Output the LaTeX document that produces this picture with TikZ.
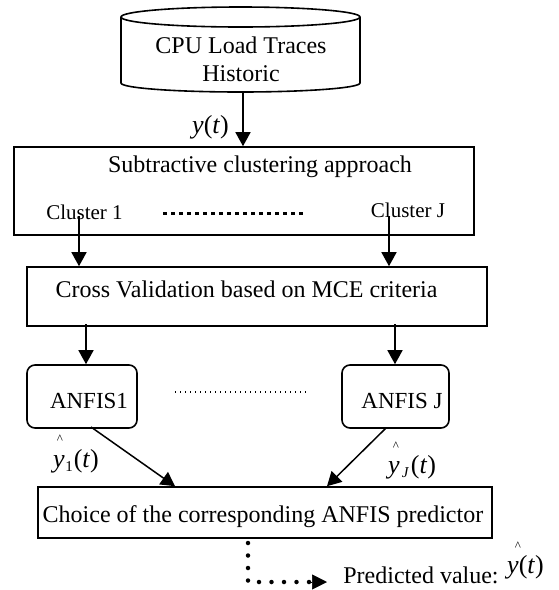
\documentclass[tikz,border=0pt]{standalone}
\usepackage{fontspec}
\setmainfont{Liberation Serif}
\usetikzlibrary{arrows.meta,calc}
\newcommand\myfs[1]{\fontsize{#1}{#1}\selectfont}
\begin{document}
\begin{tikzpicture}[x=1pt,y=-1pt,
  box/.style={draw, line width=1.6pt, inner sep=0pt},
  rbox/.style={box, rounded corners=8pt},
  txt/.style={inner sep=0pt, anchor=base, font=\myfs{24}},
  ctxt/.style={txt, font=\myfs{21}},
  atxt/.style={txt, font=\myfs{23}},
  mtxt/.style={inner sep=0pt, anchor=base west, font=\myfs{26}},
  hatmark/.style={inner sep=0pt, font=\myfs{13}},
  arr/.style={line width=1.5pt, -{Triangle[length=14pt,width=15pt]}},
  cyl/.style={line width=1.6pt},
  squaredots/.style={line width=3pt, dash pattern=on 4pt off 4pt},
  finedots/.style={line width=1.4pt, dash pattern=on 1.4pt off 3.6pt},
  bigdots/.style={line width=4.5pt, line cap=round, dash pattern=on 0pt off 12.5pt}]
\useasboundingbox (0,0) rectangle (559,590);
% cylinder
\node[inner sep=0pt, minimum width=239pt, minimum height=85pt] (cpu) at (240.5,49.5) {};
\draw[cyl] (240.5,17) ellipse [x radius=119.5pt, y radius=10pt];
\draw[cyl] (121,17) -- (121,83) arc[start angle=180, end angle=360, x radius=119.5pt, y radius=9pt] -- (360,17);
\node[txt] (cpuA) at (241,53) {CPU Load Traces};
\node[txt] (cpuB) at (241,81) {Historic};
% boxes
\node[box, minimum width=460pt, minimum height=88pt] (sub) at (244,191) {};
\node[box, minimum width=460pt, minimum height=59pt] (cv) at (257,296.5) {};
\node[rbox, minimum width=110pt, minimum height=63pt] (an1) at (82,396.5) {};
\node[rbox, minimum width=107pt, minimum height=63pt] (anJ) at (395.5,396.5) {};
\node[box, minimum width=454pt, minimum height=51pt] (ch) at (265,512.5) {};
% texts
\node[txt] (subT) at (260,172) {Subtractive clustering approach};
\node[ctxt] (c1) at (84.5,219) {Cluster 1};
\node[ctxt] (cJ) at (408,217) {Cluster J};
\node[txt] (cvT) at (246.5,297) {Cross Validation based on MCE criteria};
\node[atxt] (an1T) at (89,408) {ANFIS1};
\node[atxt] (anJT) at (402,408) {ANFIS J};
\node[txt] (chT) at (263,522) {Choice of the corresponding ANFIS predictor};
\node[txt] (pv) at (421,583) {Predicted value:};
% math labels
\node[mtxt] (yt) at (192,133) {\textit{y}(\textit{t})};
\node[mtxt] (y1) at (53,467) {\textit{y}\kern0.5pt\raisebox{-4pt}{\myfs{15}1}\kern1pt(\textit{t})};
\node[hatmark] (h1) at (60,439) {\textasciicircum};
\node[mtxt] (yJ) at (388,473) {\textit{y}\kern2pt\raisebox{-4pt}{\myfs{15}\textit{J}}\kern2pt(\textit{t})};
\node[hatmark] (hJ) at (396,446) {\textasciicircum};
\node[mtxt] (yf) at (507,573) {\textit{y}(\textit{t})};
\node[hatmark] (hf) at (518,546) {\textasciicircum};
% dotted separators
\coordinate (sd1) at (163,213);
\coordinate (sd2) at (305,213);
\draw[squaredots] (sd1) -- (sd2);
\coordinate (ad1) at (175,392);
\coordinate (ad2) at (308,392);
\draw[finedots] (ad1) -- (ad2);
% connectors
\coordinate (cpuout) at ($(cpu.south)+(2.5,0)$);
\draw[arr] (cpuout) -- (cpuout |- sub.north);
\coordinate (s1) at (79,216);
\coordinate (sJ) at (389,216);
\draw[arr] (s1) -- (s1 |- cv.north);
\draw[arr] (sJ) -- (sJ |- cv.north);
\coordinate (v1) at (86,324);
\coordinate (vJ) at (395,324);
\draw[arr] (v1) -- (v1 |- an1.north);
\draw[arr] (vJ) -- (vJ |- anJ.north);
\coordinate (d1) at (91,427);
\coordinate (dJ) at (386,428);
\coordinate (e1) at (175,0);
\coordinate (eJ) at (327,0);
\draw[arr] (d1) -- (e1 |- ch.north);
\draw[arr] (dJ) -- (eJ |- ch.north);
\coordinate (pstart) at (248,543);
\coordinate (pcorner) at (248,582);
\coordinate (pend) at (311,582);
\coordinate (ptip) at (327,582);
\draw[bigdots] (pstart) -- (pcorner) -- (pend);
\draw[line width=0.5pt, -{Triangle[length=15pt,width=15pt]}] (pend) -- (ptip);
\end{tikzpicture}
\end{document}
